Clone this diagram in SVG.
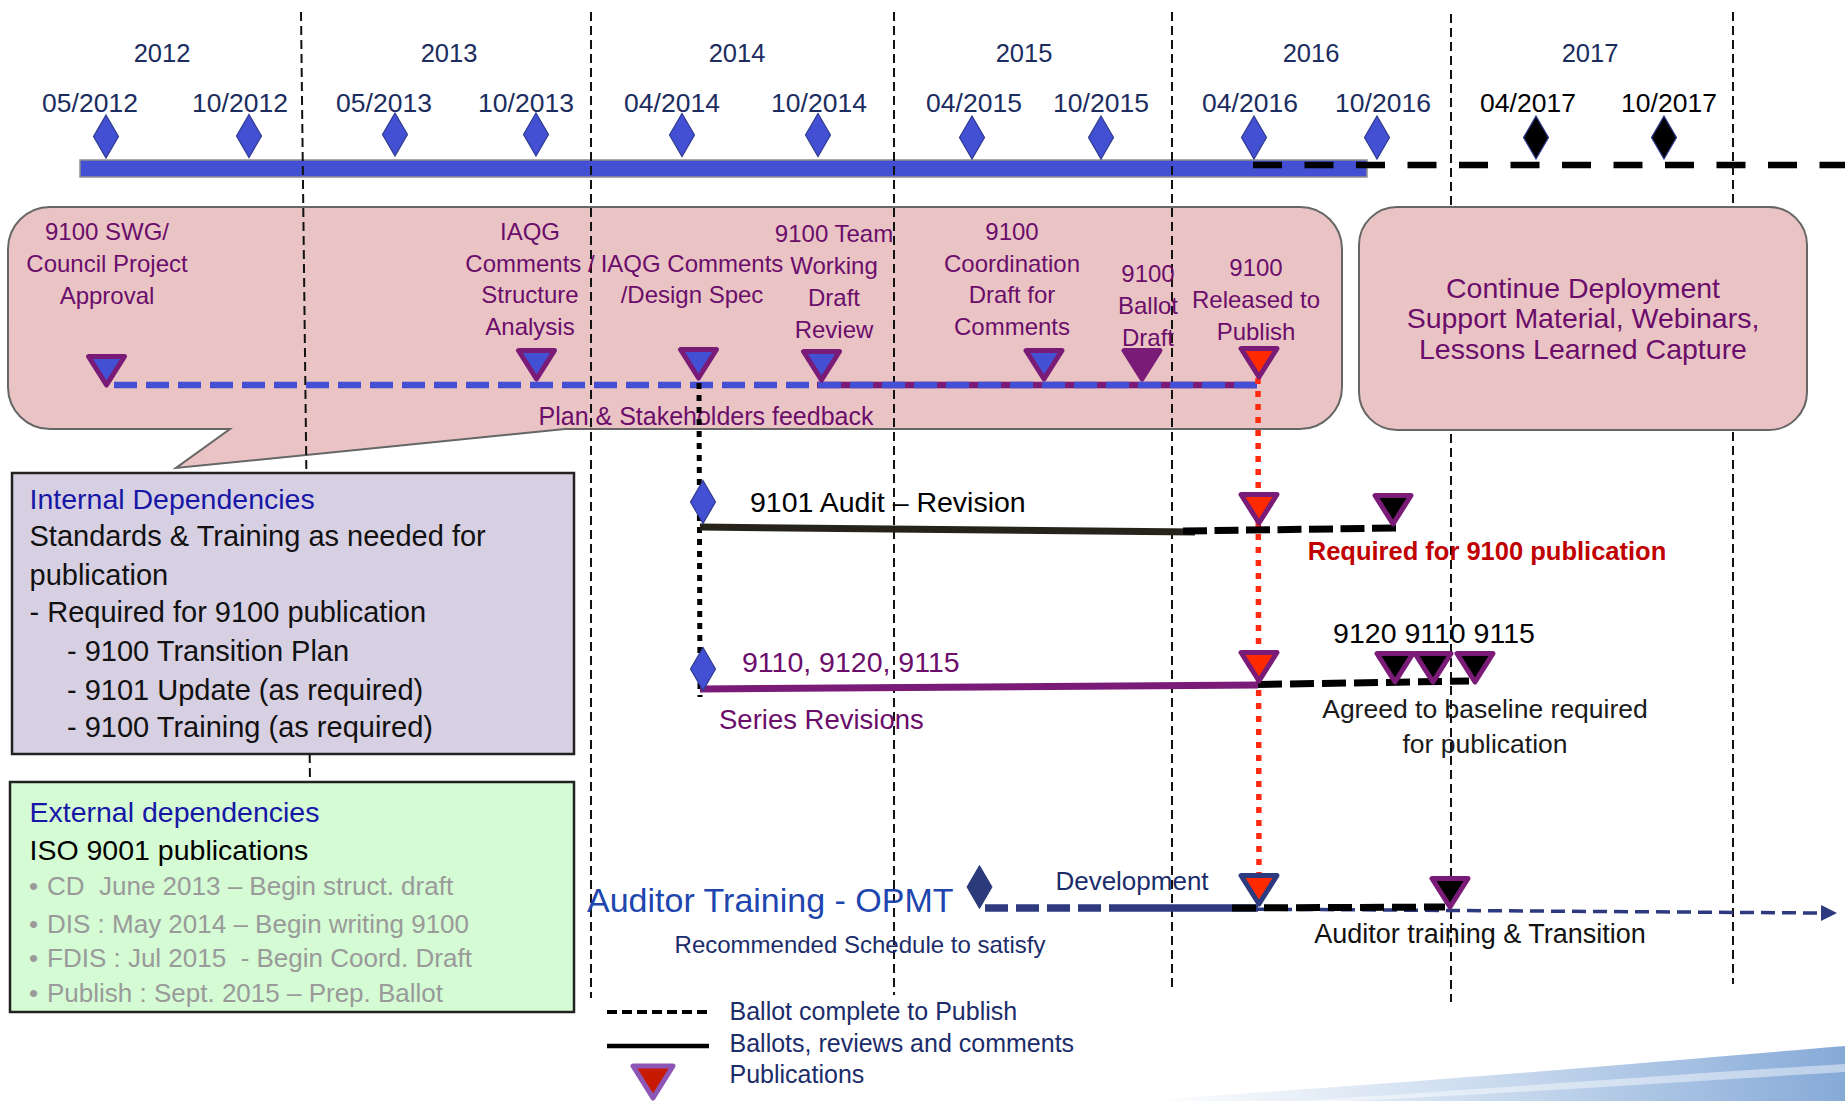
<svg xmlns="http://www.w3.org/2000/svg" xmlns:xlink="http://www.w3.org/1999/xlink" width="1845" height="1101" viewBox="0 0 1845 1101">
<style>
text{font-family:"Liberation Sans",Arial,sans-serif}
.yr{font-size:25.5px;fill:#1b2c5e;text-anchor:middle}
.dt{font-size:26.5px;fill:#1b2c5e;text-anchor:middle}
.dtk{font-size:26.5px;fill:#000;text-anchor:middle}
.cl{font-size:24px;fill:#6b0d6b;text-anchor:middle}
.rb{font-size:28.5px;fill:#6b0d6b;text-anchor:middle}
.ib{font-size:29px;fill:#111}
.ttl{font-size:28.5px;fill:#1717a6}
.gr{font-size:26px;fill:#9a9a9a;white-space:pre}
.vl{stroke:#111;stroke-width:2;stroke-dasharray:9 5;fill:none}
.dia{fill:#4350d4;stroke:#2f3a8f;stroke-width:1.2}
.diak{fill:#000;stroke:#2f3a8f;stroke-width:1.2}
.tb{fill:#4350d4;stroke:#7a1b78;stroke-width:5;stroke-linejoin:round}
.tr{fill:#ff2a00;stroke:#7a1b78;stroke-width:5;stroke-linejoin:round}
.tk{fill:#000;stroke:#7a1b78;stroke-width:5;stroke-linejoin:round}
.tp{fill:#7a1b78;stroke:#7a1b78;stroke-width:5;stroke-linejoin:round}
.tn{fill:#ff2a00;stroke:#2e3a80;stroke-width:5;stroke-linejoin:round}
.nv{fill:#1b2c6a}
.box{stroke:#222;stroke-width:2.5}
</style>
<defs>
<path id="tri" d="M-18,2.5 H18 L0,31 Z"/>
<path id="dmd" d="M0,-21.5 L12.5,0 L0,21.5 L-12.5,0 Z"/>
<marker id="arr" markerUnits="userSpaceOnUse" markerWidth="16" markerHeight="16" refX="0" refY="8" orient="auto">
<path d="M0,0 L16,8 L0,16 Z" fill="#2e3a80"/>
</marker>
<linearGradient id="sw" x1="1150" y1="0" x2="1845" y2="0" gradientUnits="userSpaceOnUse">
<stop offset="0" stop-color="#ffffff"/>
<stop offset="0.5" stop-color="#c9daee"/>
<stop offset="1" stop-color="#86aad8"/>
</linearGradient>
</defs>

<!-- background swoosh -->
<path d="M1120,1101 C1400,1085 1650,1062 1845,1046 L1845,1101 Z" fill="url(#sw)"/>
<path d="M1300,1101 C1500,1088 1680,1074 1845,1064 L1845,1072 C1680,1082 1500,1094 1350,1101 Z" fill="#ffffff" opacity="0.45"/>

<!-- timeline -->
<g id="timeline">
<rect x="80" y="160" width="1287" height="17" fill="#4350d4" stroke="#8f8f8f" stroke-width="1.5"/>
<line x1="1253" y1="165" x2="1845" y2="165" stroke="#000" stroke-width="6.5" stroke-dasharray="29 22.5"/>
<text class="yr" x="162" y="62">2012</text>
<text class="yr" x="449" y="62">2013</text>
<text class="yr" x="737" y="62">2014</text>
<text class="yr" x="1024" y="62">2015</text>
<text class="yr" x="1311" y="62">2016</text>
<text class="yr" x="1590" y="62">2017</text>
<text class="dt" x="90" y="112">05/2012</text>
<text class="dt" x="240" y="112">10/2012</text>
<text class="dt" x="384" y="112">05/2013</text>
<text class="dt" x="526" y="112">10/2013</text>
<text class="dt" x="672" y="112">04/2014</text>
<text class="dt" x="819" y="112">10/2014</text>
<text class="dt" x="974" y="112">04/2015</text>
<text class="dt" x="1101" y="112">10/2015</text>
<text class="dt" x="1250" y="112">04/2016</text>
<text class="dt" x="1383" y="112">10/2016</text>
<text class="dtk" x="1528" y="112">04/2017</text>
<text class="dtk" x="1669" y="112">10/2017</text>
<use xlink:href="#dmd" class="dia" x="106" y="136.5"/>
<use xlink:href="#dmd" class="dia" x="249" y="136"/>
<use xlink:href="#dmd" class="dia" x="395" y="134.5"/>
<use xlink:href="#dmd" class="dia" x="536" y="134.5"/>
<use xlink:href="#dmd" class="dia" x="682" y="135"/>
<use xlink:href="#dmd" class="dia" x="818" y="135"/>
<use xlink:href="#dmd" class="dia" x="972" y="137.5"/>
<use xlink:href="#dmd" class="dia" x="1101" y="137.5"/>
<use xlink:href="#dmd" class="dia" x="1254" y="137.5"/>
<use xlink:href="#dmd" class="dia" x="1377" y="137.5"/>
<use xlink:href="#dmd" class="diak" x="1536" y="137.5"/>
<use xlink:href="#dmd" class="diak" x="1664" y="137.5"/>
</g>

<!-- main callout -->
<g id="callout-9100">
<path d="M50,207 H1300 A42,42 0 0 1 1342,249 V387 A42,42 0 0 1 1300,429 H565 L176,468 L230,429 H50 A42,42 0 0 1 8,387 V249 A42,42 0 0 1 50,207 Z" fill="#eac4c4" stroke="#666" stroke-width="2"/>
</g>

<!-- year divider lines -->
<g id="dividers">
<line class="vl" x1="301" y1="12" x2="310" y2="782"/>
<line class="vl" x1="591" y1="12" x2="591" y2="998"/>
<line class="vl" x1="894" y1="12" x2="894" y2="995"/>
<line class="vl" x1="1172" y1="12" x2="1172" y2="989"/>
<line class="vl" x1="1451" y1="14" x2="1451" y2="1002"/>
<line class="vl" x1="1733" y1="12" x2="1733" y2="984"/>
</g>

<g id="callout-labels">
<text class="cl" x="107" y="240">9100 SWG/</text>
<text class="cl" x="107" y="272">Council Project</text>
<text class="cl" x="107" y="304">Approval</text>
<text class="cl" x="530" y="240">IAQG</text>
<text class="cl" x="530" y="272">Comments /</text>
<text class="cl" x="530" y="303">Structure</text>
<text class="cl" x="530" y="335">Analysis</text>
<text class="cl" x="692" y="272">IAQG Comments</text>
<text class="cl" x="692" y="303">/Design Spec</text>
<text class="cl" x="834" y="242">9100 Team</text>
<text class="cl" x="834" y="274">Working</text>
<text class="cl" x="834" y="306">Draft</text>
<text class="cl" x="834" y="338">Review</text>
<text class="cl" x="1012" y="240">9100</text>
<text class="cl" x="1012" y="272">Coordination</text>
<text class="cl" x="1012" y="303">Draft for</text>
<text class="cl" x="1012" y="335">Comments</text>
<text class="cl" x="1148" y="282">9100</text>
<text class="cl" x="1148" y="314">Ballot</text>
<text class="cl" x="1148" y="346">Draft</text>
<text class="cl" x="1256" y="276">9100</text>
<text class="cl" x="1256" y="308">Released to</text>
<text class="cl" x="1256" y="340">Publish</text>
<text class="cl" x="706" y="425" style="font-size:25px">Plan &amp; Stakeholders feedback</text>
</g>

<!-- right callout -->
<g id="deployment">
<rect x="1359" y="207" width="448" height="223" rx="38" ry="38" fill="#eac4c4" stroke="#666" stroke-width="2"/>
<text class="rb" x="1583" y="298">Continue Deployment</text>
<text class="rb" x="1583" y="328">Support Material, Webinars,</text>
<text class="rb" x="1583" y="359">Lessons Learned Capture</text>
</g>

<!-- connectors -->
<g id="connectors">
<line x1="817" y1="385" x2="1257" y2="385" stroke="#7a1b78" stroke-width="6.5"/>
<line x1="114" y1="385" x2="1257" y2="385" stroke="#4350d4" stroke-width="6.5" stroke-dasharray="23 9"/>
<line x1="699" y1="383" x2="700" y2="697" stroke="#000" stroke-width="5" stroke-dasharray="6 6"/>
<line x1="1258" y1="378" x2="1259" y2="874" stroke="#ff2a10" stroke-width="5.5" stroke-dasharray="6 7"/>
<line x1="700" y1="527" x2="1195" y2="532" stroke="#26241a" stroke-width="7"/>
<line x1="1183" y1="531" x2="1397" y2="528" stroke="#000" stroke-width="7" stroke-dasharray="24 7.5"/>
<line x1="700" y1="689" x2="1258" y2="685" stroke="#7a1b78" stroke-width="7"/>
<line x1="1258" y1="684.5" x2="1469" y2="681" stroke="#000" stroke-width="7" stroke-dasharray="24 8"/>
<line x1="1236" y1="909" x2="1821" y2="913" stroke="#2e3a80" stroke-width="3.5" stroke-dasharray="14 7" marker-end="url(#arr)"/>
<line x1="985" y1="908" x2="1113" y2="908" stroke="#2e3a80" stroke-width="7.5" stroke-dasharray="23 8"/>
<line x1="1113" y1="908" x2="1258" y2="908" stroke="#2e3a80" stroke-width="7.5"/>
<line x1="1232" y1="908" x2="1445" y2="907" stroke="#000" stroke-width="7" stroke-dasharray="24 8"/>
</g>

<!-- callout milestones -->
<g id="milestones">
<use xlink:href="#tri" class="tb" x="106.5" y="354"/>
<use xlink:href="#tri" class="tb" x="536.5" y="348"/>
<use xlink:href="#tri" class="tb" x="698.5" y="347"/>
<use xlink:href="#tri" class="tb" x="821.5" y="349"/>
<use xlink:href="#tri" class="tb" x="1044" y="348"/>
<use xlink:href="#tri" class="tp" x="1142" y="348"/>
<use xlink:href="#tri" class="tr" x="1259" y="346"/>
</g>

<g id="row-9101">
<use xlink:href="#dmd" class="dia" x="703" y="502"/>
<text x="750" y="512" style="font-size:28.5px;fill:#000">9101 Audit – Revision</text>
<use xlink:href="#tri" class="tr" x="1259" y="492"/>
<use xlink:href="#tri" class="tk" x="1393" y="493"/>
<text x="1487" y="560" style="font-size:25.5px;font-weight:bold;fill:#c00000;text-anchor:middle">Required for 9100 publication</text>
</g>

<g id="row-series">
<use xlink:href="#dmd" class="dia" x="703" y="669"/>
<text x="742" y="672" style="font-size:28.5px;fill:#6b0d6b">9110, 9120, 9115</text>
<text x="719" y="729" style="font-size:27.5px;fill:#6b0d6b">Series Revisions</text>
<use xlink:href="#tri" class="tr" x="1259" y="650"/>
<use xlink:href="#tri" class="tk" x="1395" y="651"/>
<use xlink:href="#tri" class="tk" x="1433" y="651"/>
<use xlink:href="#tri" class="tk" x="1475" y="651"/>
<text x="1434" y="643" style="font-size:28.5px;fill:#000;text-anchor:middle">9120 9110 9115</text>
<text x="1485" y="718" style="font-size:26.5px;fill:#1a1a1a;text-anchor:middle">Agreed to baseline required</text>
<text x="1485" y="753" style="font-size:26.5px;fill:#1a1a1a;text-anchor:middle">for publication</text>
</g>

<g id="row-auditor">
<text x="587" y="912" style="font-size:34px;fill:#1e46ae">Auditor Training - OPMT</text>
<use xlink:href="#dmd" fill="#2b3a7a" stroke="#2b3a7a" stroke-width="1" x="979.5" y="887"/>
<text class="nv" x="1132" y="890" style="font-size:26px;text-anchor:middle">Development</text>
<text class="nv" x="860" y="953" style="font-size:24px;text-anchor:middle">Recommended Schedule to satisfy</text>
<use xlink:href="#tri" class="tn" x="1259" y="873"/>
<use xlink:href="#tri" class="tk" x="1450" y="876"/>
<text x="1480" y="943" style="font-size:27px;fill:#111;text-anchor:middle">Auditor training &amp; Transition</text>
</g>

<g id="internal-dependencies">
<rect class="box" x="12" y="473" width="562" height="281" fill="#d7cfe2"/>
<text class="ttl" x="29.5" y="509">Internal Dependencies</text>
<text class="ib" x="29.5" y="546">Standards &amp; Training as needed for</text>
<text class="ib" x="29.5" y="585">publication</text>
<text class="ib" x="29.5" y="622">- Required for 9100 publication</text>
<text class="ib" x="67" y="661">- 9100 Transition Plan</text>
<text class="ib" x="67" y="700">- 9101 Update (as required)</text>
<text class="ib" x="67" y="737">- 9100 Training (as required)</text>
</g>

<g id="external-dependencies">
<rect class="box" x="10" y="782" width="564" height="230" fill="#d4fbd4"/>
<text class="ttl" x="29.5" y="822">External dependencies</text>
<text x="29.5" y="860" style="font-size:28.5px;fill:#000">ISO 9001 publications</text>
<text class="gr" x="29" y="895">•</text>
<text class="gr" x="47" y="895">CD  June 2013 – Begin struct. draft</text>
<text class="gr" x="29" y="933">•</text>
<text class="gr" x="47" y="933">DIS : May 2014 – Begin writing 9100</text>
<text class="gr" x="29" y="967">•</text>
<text class="gr" x="47" y="967">FDIS : Jul 2015  - Begin Coord. Draft</text>
<text class="gr" x="29" y="1002">•</text>
<text class="gr" x="47" y="1002">Publish : Sept. 2015 – Prep. Ballot</text>
</g>

<g id="legend">
<line x1="607" y1="1012" x2="709" y2="1012" stroke="#000" stroke-width="4" stroke-dasharray="10 5"/>
<line x1="607" y1="1046" x2="709" y2="1046" stroke="#000" stroke-width="4.5"/>
<polygon points="633,1066 673,1066 653,1098" fill="#c81a00" stroke="#8d55b5" stroke-width="5" stroke-linejoin="round"/>
<text class="nv" x="729.5" y="1020" style="font-size:25px">Ballot complete to Publish</text>
<text class="nv" x="729.5" y="1052" style="font-size:25px">Ballots, reviews and comments</text>
<text class="nv" x="729.5" y="1083" style="font-size:25px">Publications</text>
</g>
</svg>
